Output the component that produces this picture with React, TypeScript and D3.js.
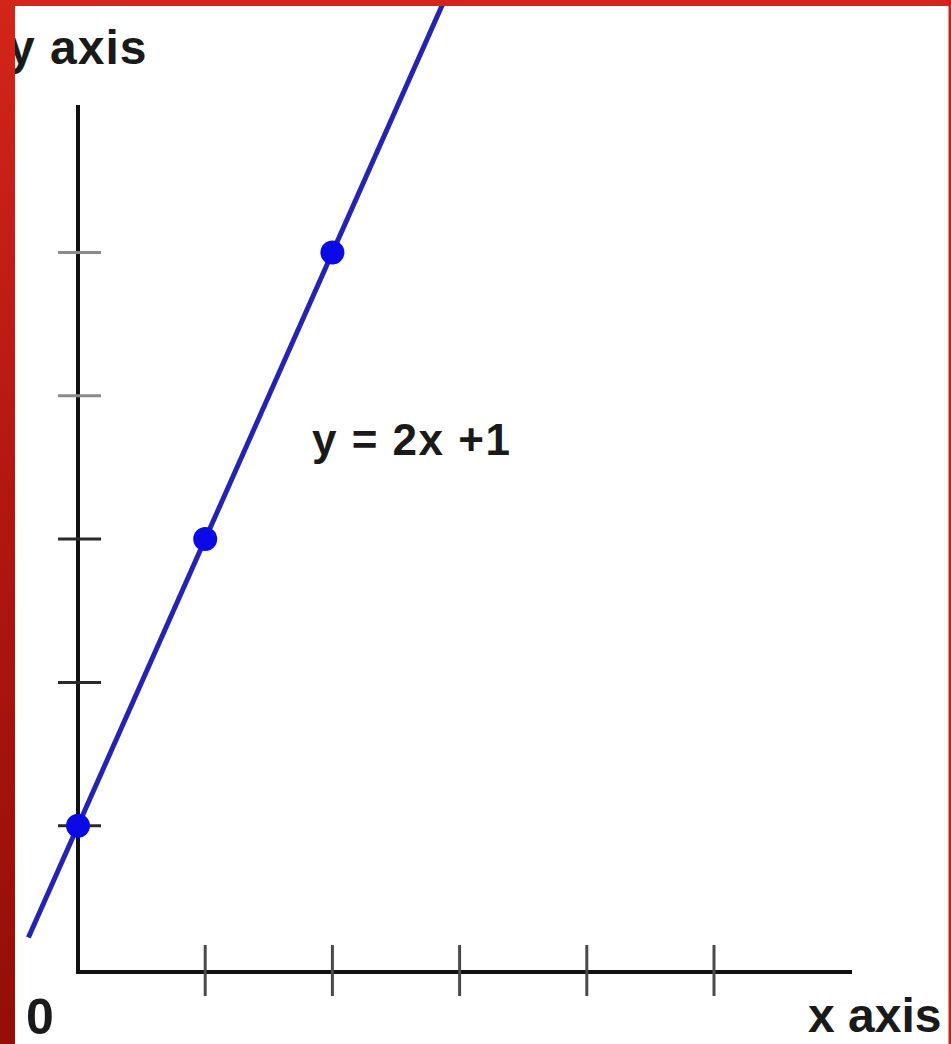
import React from "react";
import * as d3 from "d3";

// Line y = slope * x + intercept, with the three marked points on it
const slope = 2;
const intercept = 1;
const pointXs = [0, 1, 2];
const lineRange = [-0.39, 2.9];
const xTickValues = [1, 2, 3, 4, 5];
const yTickValues = [1, 2, 3, 4, 5];
const equationLabel = "y = 2x +1";
const yAxisTitle = "y axis";
const xAxisTitle = "x axis";
const originLabel = "0";

const W = 951;
const H = 1044;

export default function App() {
  const x = d3.scaleLinear().domain([0, 1]).range([78, 205.2]);
  const y = d3.scaleLinear().domain([0, 5]).range([969, 252.5]);
  const f = (v: number) => slope * v + intercept;

  const line = d3
    .line<number>()
    .x((d) => x(d))
    .y((d) => y(f(d)));

  const axisY = 972;
  const font = "'Liberation Sans', Arial, Helvetica, sans-serif";

  return (
    <svg
      width={W}
      height={H}
      style={{ position: "fixed", left: 0, top: 0, display: "block" }}
    >
      <defs>
        <linearGradient id="frameRed" x1="0" y1="0" x2="0" y2="1">
          <stop offset="0" stopColor="#d3251a" />
          <stop offset="0.5" stopColor="#b0170f" />
          <stop offset="1" stopColor="#930f07" />
        </linearGradient>
      </defs>
      <rect x={0} y={0} width={W} height={H} fill="#ffffff" />

      {/* y axis */}
      <line x1={x(0)} x2={x(0)} y1={105} y2={axisY + 2} stroke="#111" strokeWidth={4} />
      {yTickValues.map((t) => (
        <line
          key={"yt" + t}
          x1={58}
          x2={101}
          y1={y(t)}
          y2={y(t)}
          stroke={t >= 4 ? "#8a8a8a" : "#2a2a2a"}
          strokeWidth={3}
        />
      ))}

      {/* x axis */}
      <line x1={x(0) - 2} x2={852} y1={axisY} y2={axisY} stroke="#111" strokeWidth={4} />
      {xTickValues.map((t) => (
        <line
          key={"xt" + t}
          x1={x(t)}
          x2={x(t)}
          y1={945}
          y2={996}
          stroke="#4a4a4a"
          strokeWidth={3}
        />
      ))}

      {/* the line and its points */}
      <path d={line(lineRange) || ""} fill="none" stroke="#2424b4" strokeWidth={5} />
      {pointXs.map((p) => (
        <circle key={"p" + p} cx={x(p)} cy={y(f(p))} r={12} fill="#0a0ae6" />
      ))}

      {/* labels */}
      <text x={8} y={64} fontFamily={font} fontWeight="bold" fontSize={48} fill="#1a1a1a" letterSpacing={1}>
        {yAxisTitle}
      </text>
      <text x={312} y={455} fontFamily={font} fontWeight="bold" fontSize={44} fill="#1a1a1a" letterSpacing={1.5}>
        {equationLabel}
      </text>
      <text x={26} y={1034} fontFamily={font} fontWeight="bold" fontSize={50} fill="#1a1a1a">
        {originLabel}
      </text>
      <text x={808} y={1032} fontFamily={font} fontWeight="bold" fontSize={48} fill="#1a1a1a">
        {xAxisTitle}
      </text>

      {/* red frame */}
      <rect x={0} y={0} width={W} height={6} fill="#d3251a" />
      <rect x={0} y={0} width={15} height={H} fill="url(#frameRed)" />
      <rect x={948.5} y={0} width={2.5} height={H} fill="#c8201a" />
    </svg>
  );
}
